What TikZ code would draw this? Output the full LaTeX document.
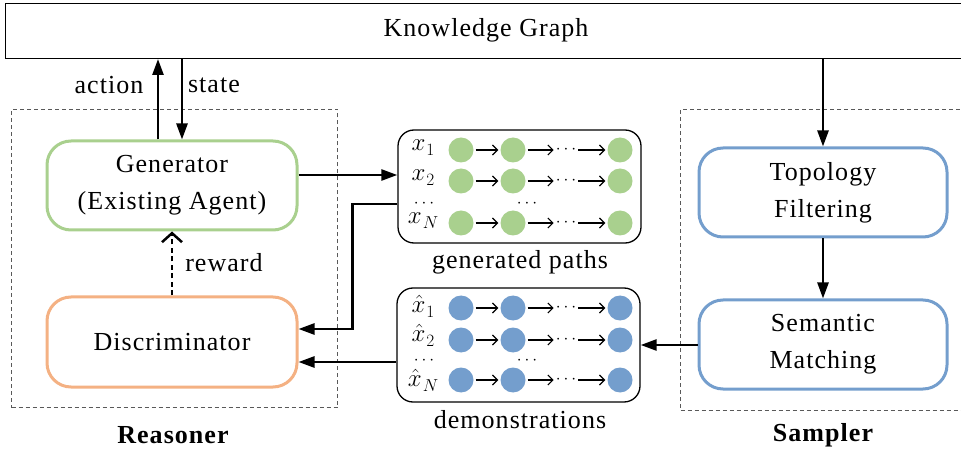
\documentclass[tikz,border=0pt]{standalone}
\usepackage{fontspec}
\setmainfont{Liberation Serif}[LetterSpace=4]
\usetikzlibrary{arrows.meta,positioning}
\definecolor{gr}{RGB}{169,208,142}
\definecolor{og}{RGB}{244,177,131}
\definecolor{bl}{RGB}{116,158,205}
\newcommand{\rowlab}[2]{{\fontsize{26}{26}\selectfont$#1$}\kern1pt\raisebox{-5pt}{\fontsize{18}{18}\selectfont$#2$}}
\begin{document}
\begin{tikzpicture}[x=1pt,y=-1pt, font=\fontsize{26}{37}\selectfont,
 box/.style={draw, rounded corners=24pt, line width=3pt, minimum width=250pt, minimum height=89pt, align=center, inner sep=0pt},
 arr/.style={line width=2.5pt, -{Triangle[length=16pt,width=11pt]}},
 grp/.style={draw=black!65, dash pattern=on 4pt off 3pt, line width=1pt, anchor=north west, inner sep=0pt},
 pbox/.style={draw, line width=1.3pt, rounded corners=16pt, minimum width=243pt, minimum height=113pt, inner sep=0pt},
 pdot/.style={circle, inner sep=0pt, minimum size=25pt},
 sm/.style={line width=1.2pt, -{Straight Barb[length=5pt,width=10pt]}},
 lab/.style={inner sep=0pt},
 dots/.style={inner sep=0pt, font=\fontsize{18}{18}\selectfont}
]
\useasboundingbox (0,0) rectangle (961,454);
% knowledge graph
\node[draw, line width=1pt, minimum width=960pt, minimum height=55pt, anchor=north west, inner sep=0pt] (kg) at (5,3) {};
\node[lab] (kgt) at (486,30) {Knowledge Graph};
% group boxes
\node[grp, minimum width=326pt, minimum height=298pt] (rbox) at (11,109) {};
\node[grp, minimum width=290pt, minimum height=301pt] (sbox) at (680,109) {};
\node[lab, font=\fontsize{26}{30}\selectfont\bfseries] (rlab) at (173,435) {Reasoner};
\node[lab, font=\fontsize{26}{30}\selectfont\bfseries] (slab) at (823,435) {Sampler};
% reasoner
\node[box, draw=gr] (gen) at (172,185.5) {Generator\\(Existing Agent)};
\node[box, draw=og, minimum height=90pt] (disc) at (172,342) {Discriminator};
% sampler
\node[box, draw=bl, minimum width=248pt] (topo) at (823,192.5) {Topology\\Filtering};
\node[box, draw=bl, minimum width=248pt] (sem) at (823,344.5) {Semantic\\Matching};
% path boxes
\node[pbox] (gp) at (519.5,186.5) {};
\node[pbox, minimum height=114pt] (demo) at (518.5,345) {};
\node[lab] (gpl) at (520,262) {generated paths};
\node[lab] (dml) at (520,420) {demonstrations};
% helper coordinates
\coordinate (xa) at (158,0);
\coordinate (xs) at (182,0);
\coordinate (y175) at (0,175);
\coordinate (y204) at (0,204);
\coordinate (y329) at (0,329);
\coordinate (y362) at (0,362);
\coordinate (y345) at (0,345);
% action / state
\draw[arr] (xa |- gen.north) -- (xa |- kg.south);
\draw[arr] (xs |- kg.south) -- (xs |- gen.north);
\node[lab] (act) at (109,85) {action};
\node[lab] (st) at (214,85) {state};
% reward
\draw[line width=2.5pt, dash pattern=on 5pt off 3.5pt, -{Straight Barb[length=9pt,width=20pt]}] (disc.north) -- (gen.south);
\node[lab] (rw) at (224,263) {reward};
% connectors
\draw[arr] (gen.east |- y175) -- (gp.west |- y175);
\draw[arr] (gp.west |- y204) -- ++(-45,0) |- (disc.east |- y329);
\draw[arr] (demo.west |- y362) -- (disc.east |- y362);
\draw[arr] (kg.south -| topo.north) -- (topo.north);
\draw[arr] (topo.south) -- (sem.north);
\draw[arr] (sem.west |- y345) -- (demo.east |- y345);
% rows
\foreach \y/\t/\s/\p in {148/x/1/a1, 178/x/2/a2, 221/x/N/a3, 306/\hat{x}/1/b1, 335/\hat{x}/2/b2, 380/\hat{x}/N/b3}{
  \node[lab] (\p l) at (423,\y) {\rowlab{\t}{\s}};
}
\foreach \y/\c/\p in {150/gr/a1, 181/gr/a2, 223/gr/a3, 308/bl/b1, 340/bl/b2, 380/bl/b3}{
  \node[pdot, fill=\c] (\p c1) at (461,\y) {};
  \node[pdot, fill=\c] (\p c2) at (513,\y) {};
  \node[pdot, fill=\c] (\p c3) at (620,\y) {};
  \node[lab, inner xsep=2pt, font=\fontsize{16}{16}\selectfont] (\p d) at (566,\y) {$\cdots$};
  \draw[sm, shorten <=2pt, shorten >=2pt] (\p c1) -- (\p c2);
  \draw[sm, shorten <=2pt] (\p c2) -- (\p d);
  \draw[sm, shorten >=2pt] (\p d) -- (\p c3);
}
\node[dots] (gd1) at (424,204) {$\cdots$};
\node[dots] (gd2) at (527,204) {$\cdots$};
\node[dots] (dd1) at (424,361) {$\cdots$};
\node[dots] (dd2) at (527,361) {$\cdots$};
\end{tikzpicture}
\end{document}
